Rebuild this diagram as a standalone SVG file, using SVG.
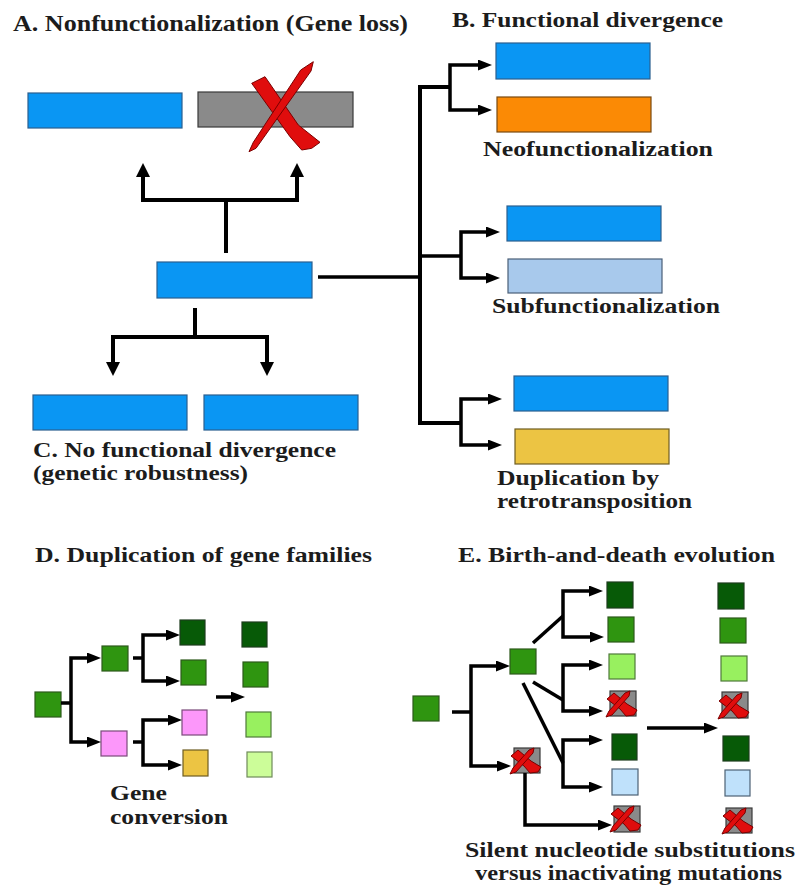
<svg xmlns="http://www.w3.org/2000/svg" xmlns:xlink="http://www.w3.org/1999/xlink" width="798" height="886" viewBox="0 0 798 886">
  <style>
    .lbl { font-family: "Liberation Serif", "Times New Roman", serif; font-weight: bold; font-size: 21px; fill: #1c1c1c; }
    .gene { stroke-width: 1.2; }
    .blue { fill: #0a96f3; stroke: #2b5f8f; }
    .gray { fill: #8a8a8a; stroke: #3a3a3a; }
    .orange { fill: #fb8a05; stroke: #7a4a10; }
    .ltblue { fill: #a8c9ec; stroke: #4a5f78; }
    .yellow { fill: #ecc443; stroke: #6e5d22; }
    .dkgreen { fill: #075a07; stroke: #1d3d1d; }
    .green { fill: #2f9510; stroke: #2d5a1c; }
    .ltgreen { fill: #98f05f; stroke: #4f7a3a; }
    .palegreen { fill: #ccfd99; stroke: #6f8a5a; }
    .pink { fill: #fc97fa; stroke: #7a4a7a; }
    .skyblue { fill: #bfe1fb; stroke: #4d6275; }
    .link { fill: none; stroke: #000; stroke-width: 3.5; stroke-linejoin: miter; stroke-linecap: butt; }
    .thick { stroke-width: 4; }
    .cross path { fill: #e00d0d; stroke: #7a0000; stroke-width: 1; stroke-linejoin: round; }
  </style>
  <defs>
    <marker id="headL" markerUnits="userSpaceOnUse" markerWidth="15" markerHeight="15" refX="0" refY="7" orient="auto-start-reverse">
      <path d="M0,0 L14,7 L0,14 z" fill="#000"/>
    </marker>
    <marker id="headS" markerUnits="userSpaceOnUse" markerWidth="15" markerHeight="12" refX="0" refY="5.5" orient="auto-start-reverse">
      <path d="M0,0 L14,5.5 L0,11 z" fill="#000"/>
    </marker>
    <!-- red "X" drawn around its own centre -->
    <g id="xmark" class="cross">
      <path d="M-33.3,-26.7 L-20,-33.3 L13.3,15 L35,32.3 L26.7,38.3 L16.7,40 L5,26.7 Z"/>
      <path d="M28.3,-48.3 L26,-39 L-29,38.3 L-36,41.7 L-31.7,32.3 L15.7,-40 Z"/>
    </g>
    <!-- small version used on the lost copies of panel E -->
    <g id="xsmall" class="cross">
      <path d="M-14,-5 L-7,-11 L6,0 L16,6 L13,11 L5,12 L-1,5 Z"/>
      <path d="M9,-13 L8,-8 L-9,11 L-15,13 L-12,7 L4,-11 Z"/>
    </g>
  </defs>

  <!-- A. Nonfunctionalization -->
  <text class="lbl" x="13" y="31" textLength="395" lengthAdjust="spacingAndGlyphs" style="font-size:24px">A. Nonfunctionalization (Gene loss)</text>
  <g id="a-kept"><rect class="gene blue" x="28" y="93" width="154" height="35"/></g>
  <g id="a-lost">
    <rect class="gene gray" x="198" y="92" width="155" height="35"/>
    <use xlink:href="#xmark" href="#xmark" transform="translate(285,110)"/>
  </g>

  <!-- ancestral gene -->
  <g id="ancestor"><rect class="gene blue" x="157" y="262" width="155" height="36"/></g>

  <!-- C. No functional divergence -->
  <g id="c-copy1"><rect class="gene blue" x="33" y="395" width="154" height="35"/></g>
  <g id="c-copy2"><rect class="gene blue" x="204" y="395" width="154" height="35"/></g>
  <text class="lbl" x="33" y="457" textLength="303" lengthAdjust="spacingAndGlyphs">C. No functional divergence</text>
  <text class="lbl" x="33" y="480" textLength="215" lengthAdjust="spacingAndGlyphs">(genetic robustness)</text>

  <!-- B. Functional divergence -->
  <text class="lbl" x="452" y="27" textLength="271" lengthAdjust="spacingAndGlyphs">B. Functional divergence</text>
  <g id="b-neo1"><rect class="gene blue" x="496" y="43" width="154" height="36"/></g>
  <g id="b-neo2"><rect class="gene orange" x="497" y="97" width="154" height="35"/></g>
  <text class="lbl" x="483" y="156" textLength="230" lengthAdjust="spacingAndGlyphs">Neofunctionalization</text>
  <g id="b-sub1"><rect class="gene blue" x="507" y="206" width="154" height="35"/></g>
  <g id="b-sub2"><rect class="gene ltblue" x="508" y="259" width="154" height="34"/></g>
  <text class="lbl" x="492" y="313" textLength="228" lengthAdjust="spacingAndGlyphs">Subfunctionalization</text>
  <g id="b-retro1"><rect class="gene blue" x="514" y="376" width="154" height="35"/></g>
  <g id="b-retro2"><rect class="gene yellow" x="515" y="429" width="154" height="35"/></g>
  <text class="lbl" x="497" y="485" textLength="162" lengthAdjust="spacingAndGlyphs">Duplication by</text>
  <text class="lbl" x="497" y="508" textLength="195" lengthAdjust="spacingAndGlyphs">retrotransposition</text>

  <!-- D. Duplication of gene families -->
  <text class="lbl" x="35" y="562" textLength="337" lengthAdjust="spacingAndGlyphs">D. Duplication of gene families</text>
  <g id="d-root"><rect class="gene green" x="35" y="692" width="26" height="25"/></g>
  <g id="d-mid1"><rect class="gene green" x="102" y="646" width="26" height="25"/></g>
  <g id="d-mid2"><rect class="gene pink" x="101" y="731" width="26" height="25"/></g>
  <g id="d-leaf1"><rect class="gene dkgreen" x="180" y="620" width="25" height="25"/></g>
  <g id="d-leaf2"><rect class="gene green" x="181" y="660" width="25" height="25"/></g>
  <g id="d-leaf3"><rect class="gene pink" x="182" y="710" width="25" height="25"/></g>
  <g id="d-leaf4"><rect class="gene yellow" x="183" y="750" width="25" height="26"/></g>
  <g id="d-conv1"><rect class="gene dkgreen" x="242" y="622" width="25" height="25"/></g>
  <g id="d-conv2"><rect class="gene green" x="243" y="662" width="25" height="25"/></g>
  <g id="d-conv3"><rect class="gene ltgreen" x="246" y="712" width="25" height="25"/></g>
  <g id="d-conv4"><rect class="gene palegreen" x="247" y="752" width="25" height="25"/></g>
  <text class="lbl" x="110" y="800" textLength="57" lengthAdjust="spacingAndGlyphs">Gene</text>
  <text class="lbl" x="110" y="824" textLength="118" lengthAdjust="spacingAndGlyphs">conversion</text>

  <!-- E. Birth-and-death evolution -->
  <text class="lbl" x="458" y="562" textLength="317" lengthAdjust="spacingAndGlyphs">E. Birth-and-death evolution</text>
  <g id="e-root"><rect class="gene green" x="413" y="696" width="26" height="25"/></g>
  <g id="e-mid1"><rect class="gene green" x="510" y="649" width="26" height="25"/></g>
  <g id="e-mid2">
    <rect class="gene gray" x="514" y="748" width="26" height="25"/>
    <use xlink:href="#xsmall" href="#xsmall" transform="translate(525,761)"/>
  </g>
  <g id="e-a1"><rect class="gene dkgreen" x="607" y="582" width="26" height="26"/></g>
  <g id="e-a2"><rect class="gene green" x="608" y="617" width="26" height="25"/></g>
  <g id="e-a3"><rect class="gene ltgreen" x="609" y="654" width="26" height="25"/></g>
  <g id="e-a4">
    <rect class="gene gray" x="610" y="691" width="26" height="25"/>
    <use xlink:href="#xsmall" href="#xsmall" transform="translate(621,704)"/>
  </g>
  <g id="e-a5"><rect class="gene dkgreen" x="612" y="734" width="25" height="26"/></g>
  <g id="e-a6"><rect class="gene skyblue" x="612" y="769" width="26" height="26"/></g>
  <g id="e-a7">
    <rect class="gene gray" x="614" y="806" width="26" height="26"/>
    <use xlink:href="#xsmall" href="#xsmall" transform="translate(625,819)"/>
  </g>
  <g id="e-b1"><rect class="gene dkgreen" x="718" y="583" width="26" height="26"/></g>
  <g id="e-b2"><rect class="gene green" x="720" y="618" width="26" height="25"/></g>
  <g id="e-b3"><rect class="gene ltgreen" x="721" y="656" width="26" height="25"/></g>
  <g id="e-b4">
    <rect class="gene gray" x="722" y="692" width="26" height="26"/>
    <use xlink:href="#xsmall" href="#xsmall" transform="translate(733,706)"/>
  </g>
  <g id="e-b5"><rect class="gene dkgreen" x="723" y="736" width="26" height="25"/></g>
  <g id="e-b6"><rect class="gene skyblue" x="725" y="770" width="25" height="26"/></g>
  <g id="e-b7">
    <rect class="gene gray" x="726" y="808" width="26" height="25"/>
    <use xlink:href="#xsmall" href="#xsmall" transform="translate(737,821)"/>
  </g>
  <text class="lbl" x="465" y="857" textLength="330" lengthAdjust="spacingAndGlyphs">Silent nucleotide substitutions</text>
  <text class="lbl" x="475" y="880" textLength="307" lengthAdjust="spacingAndGlyphs">versus inactivating mutations</text>

  <!-- connectors -->
  <g id="connectors">
    <!-- A -->
    <path class="link thick" d="M143,177 V200 H297 V177" marker-start="url(#headL)" marker-end="url(#headL)"/>
    <path class="link thick" d="M226,200 V253"/>
    <!-- C -->
    <path class="link thick" d="M195,308 V337"/>
    <path class="link thick" d="M113,362 V337 H267 V362" marker-start="url(#headL)" marker-end="url(#headL)"/>
    <!-- B -->
    <path class="link" d="M318,277 H420"/>
    <path class="link thick" d="M450,87 H420 V423 H461"/>
    <path class="link" d="M420,256 H461"/>
    <path class="link" d="M478,65 H450 V110 H478" marker-start="url(#headS)" marker-end="url(#headS)"/>
    <path class="link" d="M486,232 H461 V278 H486" marker-start="url(#headS)" marker-end="url(#headS)"/>
    <path class="link" d="M488,399 H461 V445 H488" marker-start="url(#headS)" marker-end="url(#headS)"/>
    <!-- D -->
    <path class="link" d="M61,703 H71"/>
    <path class="link" d="M87,658 H71 V742 H87" marker-start="url(#headS)" marker-end="url(#headS)"/>
    <path class="link" d="M133,658 H143"/>
    <path class="link" d="M166,635 H143 V681 H166" marker-start="url(#headS)" marker-end="url(#headS)"/>
    <path class="link" d="M133,742 H143"/>
    <path class="link" d="M168,720 H143 V765 H168" marker-start="url(#headS)" marker-end="url(#headS)"/>
    <path class="link" d="M216,697 H231" marker-end="url(#headS)"/>
    <!-- E -->
    <path class="link" d="M452,712 H471"/>
    <path class="link" d="M496,666 H471 V766 H497" marker-start="url(#headS)" marker-end="url(#headS)"/>
    <path class="link" d="M533,643 L563,616"/>
    <path class="link" d="M589,591 H563 V637 H590" marker-start="url(#headS)" marker-end="url(#headS)"/>
    <path class="link" d="M533,682 L563,700"/>
    <path class="link" d="M589,665 H563 V711 H589" marker-start="url(#headS)" marker-end="url(#headS)"/>
    <path class="link" d="M523,683 L563,763"/>
    <path class="link" d="M589,740 H563 V787 H589" marker-start="url(#headS)" marker-end="url(#headS)"/>
    <path class="link" d="M525,773 V825 H598" marker-end="url(#headS)"/>
    <path class="link" d="M647,728 H704" marker-end="url(#headS)"/>
  </g>
</svg>
